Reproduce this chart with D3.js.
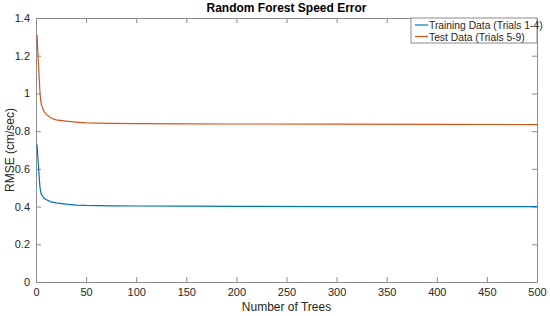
<!DOCTYPE html>
<html>
<head>
<meta charset="utf-8">
<script src="https://cdn.jsdelivr.net/npm/d3@7"></script>
<style>
  body { margin: 0; background: #fff; }
  svg { display: block; font-family: "Liberation Sans", Arial, sans-serif; }
</style>
</head>
<body>
<div id="chart"></div>
<script>
const trees = [1, 2, 3, 4, 5, 6, 8, 10, 15, 20, 30, 40, 50, 75, 100, 150, 200, 300, 400, 500];
const trainingRmse = [0.73, 0.65, 0.57, 0.50, 0.47, 0.46, 0.445, 0.437, 0.425, 0.42, 0.413, 0.408, 0.406, 0.404, 0.403, 0.402, 0.401, 0.40, 0.40, 0.40];
const testRmse = [1.31, 1.20, 1.10, 1.00, 0.95, 0.93, 0.905, 0.89, 0.87, 0.86, 0.853, 0.848, 0.844, 0.841, 0.84, 0.839, 0.838, 0.837, 0.836, 0.835];
const xTicks = [0, 50, 100, 150, 200, 250, 300, 350, 400, 450, 500];
const yTicks = [0, 0.2, 0.4, 0.6, 0.8, 1, 1.2, 1.4];
const seriesNames = ["Training Data (Trials 1-4)", "Test Data (Trials 5-9)"];

const width = 550, height = 316;
const margin = { top: 18, right: 13, bottom: 34, left: 36 };
const axisColor = "#8c8c8c";
const textColor = "#262626";
const colors = ["#0072BD", "#D95319"];

const svg = d3.select("#chart").append("svg")
    .attr("width", width)
    .attr("height", height);

const x = d3.scaleLinear().domain([0, 500]).range([margin.left, width - margin.right]);
const y = d3.scaleLinear().domain([0, 1.4]).range([height - margin.bottom, margin.top]);

// axes on all four sides, ticks pointing inward
const fmt = d => d3.format("~g")(d);
const axisBottomG = svg.append("g")
    .attr("transform", `translate(0,${y(0)})`)
    .call(d3.axisBottom(x).tickValues(xTicks).tickSizeInner(-5).tickSizeOuter(0).tickPadding(6).tickFormat(fmt));
const axisLeftG = svg.append("g")
    .attr("transform", `translate(${x(0)},0)`)
    .call(d3.axisLeft(y).tickValues(yTicks).tickSizeInner(-5).tickSizeOuter(0).tickPadding(6).tickFormat(fmt));
const axisTopG = svg.append("g")
    .attr("transform", `translate(0,${y(1.4)})`)
    .call(d3.axisTop(x).tickValues(xTicks).tickSizeInner(-5).tickSizeOuter(0).tickFormat(""));
const axisRightG = svg.append("g")
    .attr("transform", `translate(${x(500)},0)`)
    .call(d3.axisRight(y).tickValues(yTicks).tickSizeInner(-5).tickSizeOuter(0).tickFormat(""));

[axisBottomG, axisLeftG, axisTopG, axisRightG].forEach(g => {
    g.selectAll("path.domain").attr("stroke", axisColor);
    g.selectAll(".tick line").attr("stroke", axisColor);
    g.selectAll(".tick text").attr("fill", textColor).attr("font-size", 11)
        .attr("font-family", "Liberation Sans, Arial, sans-serif");
});

// lines
const line = d3.line().x(d => x(d[0])).y(d => y(d[1]));
[trainingRmse, testRmse].forEach((vals, i) => {
    svg.append("path")
        .datum(trees.map((t, j) => [t, vals[j]]))
        .attr("fill", "none")
        .attr("stroke", colors[i])
        .attr("stroke-width", 1.2)
        .attr("d", line);
});

// title and labels
svg.append("text")
    .attr("x", (x(0) + x(500)) / 2).attr("y", 12)
    .attr("text-anchor", "middle")
    .attr("font-size", 12).attr("font-weight", "bold")
    .attr("fill", "#000")
    .text("Random Forest Speed Error");

svg.append("text")
    .attr("x", (x(0) + x(500)) / 2).attr("y", 311)
    .attr("text-anchor", "middle")
    .attr("font-size", 12)
    .attr("fill", textColor)
    .text("Number of Trees");

svg.append("text")
    .attr("transform", `translate(14,${(y(0) + y(1.4)) / 2}) rotate(-90)`)
    .attr("text-anchor", "middle")
    .attr("font-size", 12)
    .attr("fill", textColor)
    .text("RMSE (cm/sec)");

// legend
const legendX = 411;
const legend = svg.append("g").attr("transform", `translate(${legendX},${margin.top})`);
legend.append("rect")
    .attr("width", x(500) - legendX).attr("height", 25)
    .attr("fill", "#fff").attr("stroke", axisColor);
seriesNames.forEach((name, i) => {
    const ly = 7 + i * 11.5;
    legend.append("line")
        .attr("x1", 4).attr("x2", 17).attr("y1", ly).attr("y2", ly)
        .attr("stroke", colors[i]).attr("stroke-width", 1.2);
    legend.append("text")
        .attr("x", 18).attr("y", ly + 4)
        .attr("font-size", 10.3)
        .attr("fill", textColor)
        .text(name);
});
</script>
</body>
</html>
